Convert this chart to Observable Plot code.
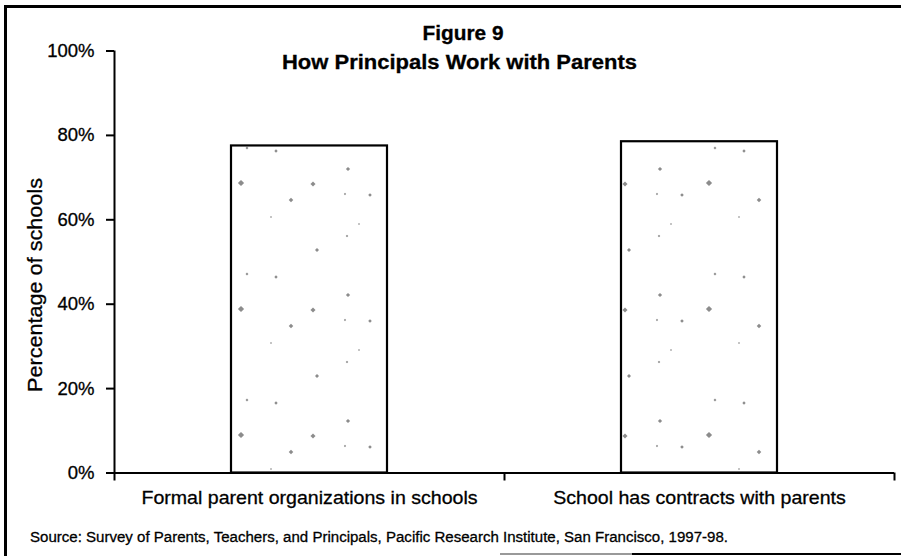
<!DOCTYPE html>
<html><head><meta charset="utf-8">
<script src="https://cdn.jsdelivr.net/npm/d3@7"></script>
<script src="https://cdn.jsdelivr.net/npm/@observablehq/plot@0.6"></script>
<style>
html,body{margin:0;padding:0;background:#fff;}
#wrap{position:relative;width:901px;height:556px;overflow:hidden;}
.bd{position:absolute;background:#000;}
</style></head><body><div id="wrap">
<div class="bd" style="left:4px;top:5px;width:3px;height:551px;"></div>
<div class="bd" style="left:4px;top:5px;width:897px;height:2.5px;"></div>
<div class="bd" style="left:500px;top:553px;width:132px;height:2px;background:#999;"></div>
<div class="bd" style="left:632px;top:553px;width:269px;height:2px;"></div>
</div>
<script>
const categories = ["Formal parent organizations in schools", "School has contracts with parents"];
const values = [77.5, 78.5];
const yTicks = [0, 20, 40, 60, 80, 100];
const titleLines = ["Figure 9", "How Principals Work with Parents"];
const yLabel = "Percentage of schools";
const source = "Source: Survey of Parents, Teachers, and Principals, Pacific Research Institute, San Francisco, 1997-98.";

const n = categories.length;
const data = categories.map((c, i) => ({i, category: c, value: values[i]}));
const FONT = "Liberation Sans, Arial, Helvetica, sans-serif";

const chart = Plot.plot({
  width: 901, height: 556,
  marginLeft: 114, marginRight: 7, marginTop: 50.5, marginBottom: 83.5,
  style: {fontFamily: FONT, background: "transparent", color: "#000"},
  x: {type: "linear", domain: [0, n], label: null},
  y: {domain: [0, 100], label: null},
  marks: [
    Plot.rectY(data, {x1: d => d.i + 0.3, x2: d => d.i + 0.7, y: "value", fill: "white", stroke: "#000", strokeWidth: 2.2}),
    Plot.ruleX([0], {y1: 0, y2: 100, stroke: "#000", strokeWidth: 2}),
    Plot.ruleY([0], {x1: 0, x2: n, stroke: "#000", strokeWidth: 2}),
    Plot.axisY(yTicks, {tickSize: 8, tickPadding: 12, tickFormat: d => d + "%", fontSize: 18.5, strokeWidth: 2, label: null}),
    Plot.axisX(d3.range(n + 1), {tickSize: 8, tickFormat: () => "", strokeWidth: 2, label: null}),
    Plot.axisX(data.map(d => d.i + 0.5), {tickSize: 0, tickPadding: 17, tickFormat: d => categories[Math.floor(d)], fontSize: 19, label: null})
  ]
});
document.getElementById("wrap").appendChild(chart);
chart.style.position = "absolute";
chart.style.left = "0px";
chart.style.top = "0px";

const svg = d3.select(chart);
// sparse, irregular speckles like the scanned original
const defs = svg.insert("defs", ":first-child");
const pat = defs.append("pattern").attr("id", "speckle").attr("patternUnits", "userSpaceOnUse")
  .attr("width", 156).attr("height", 126).attr("x", 231).attr("y", 20);
pat.append("rect").attr("width", 156).attr("height", 126).attr("fill", "#fff");
[[10, 37, 2.2], [82, 38, 1.8], [114, 48, 0.8], [45, 5, 1.2], [16, 2, 1], [60, 54, 1.6],
 [117, 23, 1.5], [139, 49, 1.3], [86, 104, 1.4], [40, 71, 0.7], [116, 90, 0.9], [128, 78, 0.7]]
  .forEach(([cx, cy, r]) =>
    pat.append("rect").attr("x", cx - r).attr("y", cy - r).attr("width", 2 * r).attr("height", 2 * r)
      .attr("transform", `rotate(45 ${cx} ${cy})`).attr("fill", "#8c8c8c"));
svg.selectAll('g[aria-label="rect"] rect').attr("fill", "url(#speckle)");

// slightly wider category labels
svg.selectAll('g[aria-label="x-axis tick label"] text').each(function() {
  const len = this.getComputedTextLength();
  if (len > 0) d3.select(this).attr("textLength", len * 1.03).attr("lengthAdjust", "spacingAndGlyphs");
});
svg.selectAll('g[aria-label="x-axis tick label"], g[aria-label="y-axis tick label"]')
  .attr("stroke", "#000").attr("stroke-width", 0.3);

function addText(str, x, y, size, weight, width, anchor, transform) {
  const t = svg.append("text").attr("font-family", FONT).attr("font-size", size)
    .attr("font-weight", weight).attr("text-anchor", anchor).attr("fill", "#000")
    .attr("stroke", "#000").attr("stroke-width", 0.3).text(str);
  if (transform) t.attr("transform", transform); else t.attr("x", x).attr("y", y);
  t.attr("textLength", width).attr("lengthAdjust", "spacingAndGlyphs");
  return t;
}
addText(titleLines[0], 463, 39.5, 20, "bold", 81, "middle");
addText(titleLines[1], 459.5, 68.5, 20, "bold", 355, "middle");
addText(yLabel, 0, 0, 20, "normal", 214, "middle", "translate(42,285) rotate(-90)");
addText(source, 30, 542, 15.5, "normal", 698, "start");
</script>
</body></html>
